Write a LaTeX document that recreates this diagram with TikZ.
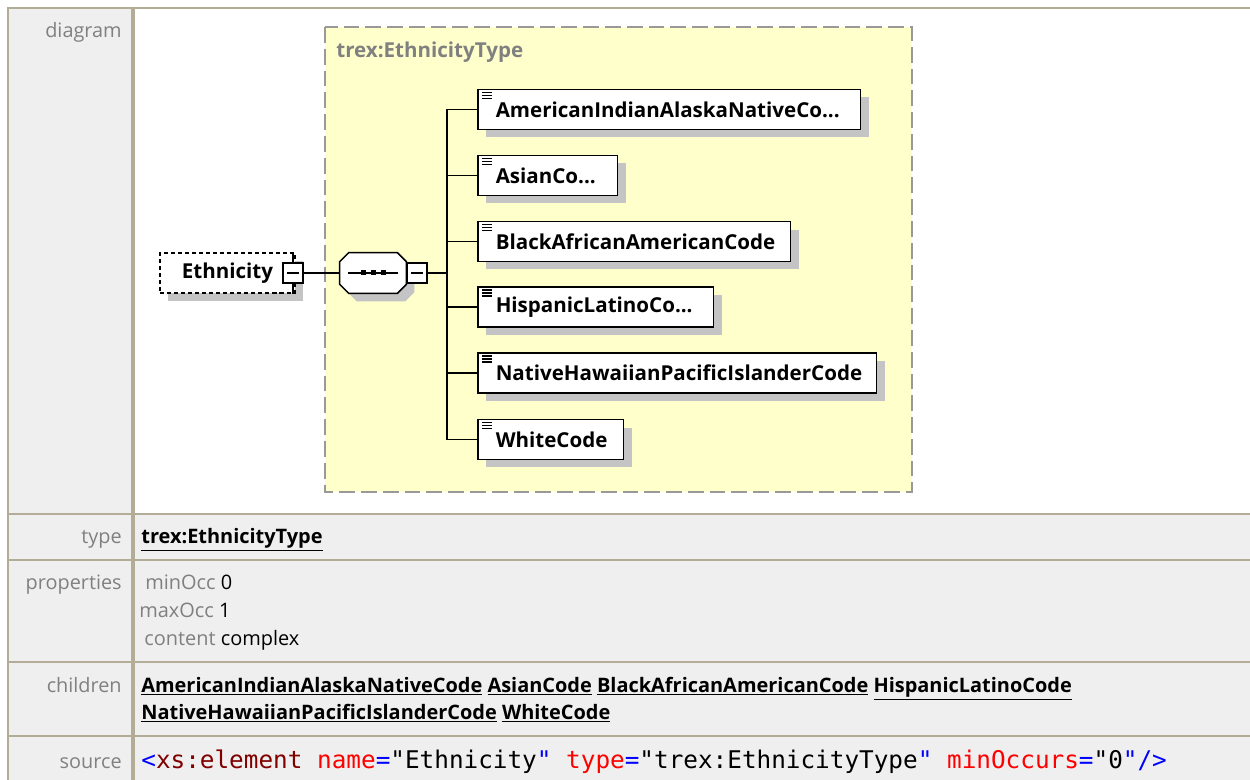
\documentclass[tikz,border=0pt]{standalone}
\usepackage{fontspec}
\setmainfont{Open Sans}
\setmonofont{DejaVu Sans Mono}
\usepackage{tikz}
\usetikzlibrary{positioning,shadows}
\usepackage{xcolor}
\definecolor{rule}{HTML}{B3AD98}
\definecolor{cell}{HTML}{EFEFEF}
\definecolor{lblgray}{HTML}{808080}
\definecolor{typebox}{HTML}{FFFFCC}
\definecolor{typeedge}{HTML}{999999}
\definecolor{shade}{HTML}{C4C4C4}
\definecolor{xmlblue}{HTML}{0000FF}
\definecolor{xmltag}{HTML}{800000}
\definecolor{xmlattr}{HTML}{FF0000}
\newcommand{\lnk}[1]{\underline{\textbf{#1}}}
\newcommand{\cut}{.{}.{}.}

\begin{document}
\begin{tikzpicture}[
  x=0.02cm, y=-0.02cm,
  cellbox/.style={draw=rule, line width=1.1pt},
  lbl/.style={anchor=base east, inner sep=0pt, text=lblgray, font=\fontsize{11.3}{13}\selectfont},
  val/.style={anchor=base west, inner sep=0pt, font=\fontsize{11.35}{13}\selectfont},
  shade/.style={drop shadow={shadow xshift=0.16cm, shadow yshift=-0.16cm, fill=shade, draw=none, opacity=1}},
  elem/.style={draw, line width=0.85pt, fill=white, anchor=west, minimum height=0.8cm, text width=#1, align=left,
    inner xsep=0.36cm, inner ysep=0pt, font=\bfseries\fontsize{11.7}{13}\selectfont, shade,
    path picture={\foreach \k in {3,6,9} \draw[line width=0.6pt] ([shift={(4,\k)}]path picture bounding box.north west) -- ++(10,0);}},
  collapse/.style={draw, line width=0.85pt, fill=white, minimum size=0.4cm, inner sep=0pt,
    path picture={\draw[line width=0.85pt] ([xshift=0.08cm]path picture bounding box.west) -- ([xshift=-0.08cm]path picture bounding box.east);}},
]
  \useasboundingbox (0,0) rectangle (1250,780);
  \fill[white] (0,0) rectangle (1250,780);

  \draw[cellbox, fill=cell] (8,8) rectangle (132,514);
  \draw[cellbox, fill=white] (134,8) rectangle (1256,514);
  \foreach \top/\bot in {514/560, 560/662, 662/736, 736/790} {
    \draw[cellbox, fill=cell] (8,\top) rectangle (132,\bot);
    \draw[cellbox, fill=cell] (134,\top) rectangle (1256,\bot);
  }

  \node[lbl] (ldiagram) at (122,38) {diagram};
  \node[lbl] (ltype) at (122,543) {type};
  \node[lbl] (lprops) at (122,589) {properties};
  \node[lbl] (lchildren) at (122,692) {children};
  \node[lbl] (lsource) at (122,768) {source};

  \draw[typeedge, fill=typebox, line width=1.2pt, dash pattern=on 9pt off 3.4pt] (325,27) rectangle (912,492);
  \node[anchor=base west, inner sep=0pt, text=lblgray, font=\bfseries\fontsize{11.7}{13}\selectfont] (ctype) at (336,58) {trex:EthnicityType};

  \node[draw, dash pattern=on 2.3pt off 1.7pt, line width=0.85pt, fill=white, minimum width=2.7cm, minimum height=0.8cm,
    font=\bfseries\fontsize{11.7}{13}\selectfont, shade] (root) at (227.5,273) {Ethnicity\hspace{9pt}};
  \node[collapse] (rm) at (293,273) {};
  \draw[line width=0.85pt] (rm.north) -- (rm.north |- root.north);
  \draw[line width=0.85pt] (rm.south) -- (rm.south |- root.south);

  \node[minimum width=1.32cm, minimum height=0.8cm, inner sep=0pt] (seq) at (373,273) {};
  \draw[line width=0.85pt, fill=white, shade]
    ([xshift=0.18cm]seq.north west) -- ([xshift=-0.18cm]seq.north east) -- ([yshift=-0.18cm]seq.north east)
    -- ([yshift=0.18cm]seq.south east) -- ([xshift=-0.18cm]seq.south east) -- ([xshift=0.18cm]seq.south west)
    -- ([yshift=0.18cm]seq.south west) -- ([yshift=-0.18cm]seq.north west) -- cycle;
  \draw[line width=0.85pt] (seq.center) ++(-25,0) -- ++(50,0);
  \foreach \dx in {-10,0,10}
    \fill (seq.center) ++(\dx-2.5,-2.5) rectangle ++(5,5);
  \node[collapse] (sm) at (417,273) {};
  \draw[line width=0.85pt] (rm.east) -- (seq.west);

  \coordinate (fork) at (447,273);
  \draw[line width=0.85pt] (sm.east) -- (fork);

  \foreach \name/\y/\w/\txt in {
      amind/109.5/6.94cm/AmericanIndianAlaskaNativeCo\cut,
      asian/175.5/2.08cm/AsianCo\cut,
      black/241.5/5.54cm/BlackAfricanAmericanCode,
      hisp/307/4.00cm/HispanicLatinoCo\cut,
      nhpi/373/7.26cm/NativeHawaiianPacificIslanderCode,
      white/439.5/2.20cm/WhiteCode} {
    \node[elem=\w] (\name) at (477,\y) {\txt};
    \draw[line width=0.85pt] (fork) |- (\name.west);
  }

  \node[val] (vtype) at (141,543) {\lnk{trex:EthnicityType}};
  \node[val] (vmin) at (145,589) {\textcolor{lblgray}{minOcc} 0};
  \node[val] (vmax) at (139,617) {\textcolor{lblgray}{maxOcc} 1};
  \node[val] (vcontent) at (144,645) {\textcolor{lblgray}{content} complex};
  \node[val] (vkids1) at (141,692) {\lnk{AmericanIndianAlaskaNativeCode} \lnk{AsianCode} \lnk{BlackAfricanAmericanCode} \lnk{HispanicLatinoCode}};
  \node[val] (vkids2) at (141,719) {\lnk{NativeHawaiianPacificIslanderCode} \lnk{WhiteCode}};
  \node[val, font=\ttfamily\fontsize{13.85}{16}\selectfont] (vsource) at (141,768)
    {\textcolor{xmlblue}{<}\textcolor{xmltag}{xs:element} \textcolor{xmlattr}{name}\textcolor{xmlblue}{=}"Ethnicity\textcolor{xmlblue}{"} \textcolor{xmlattr}{type}\textcolor{xmlblue}{=}"trex:EthnicityType\textcolor{xmlblue}{"} \textcolor{xmlattr}{minOccurs}\textcolor{xmlblue}{=}"0\textcolor{xmlblue}{"/>}};
\end{tikzpicture}
\end{document}
